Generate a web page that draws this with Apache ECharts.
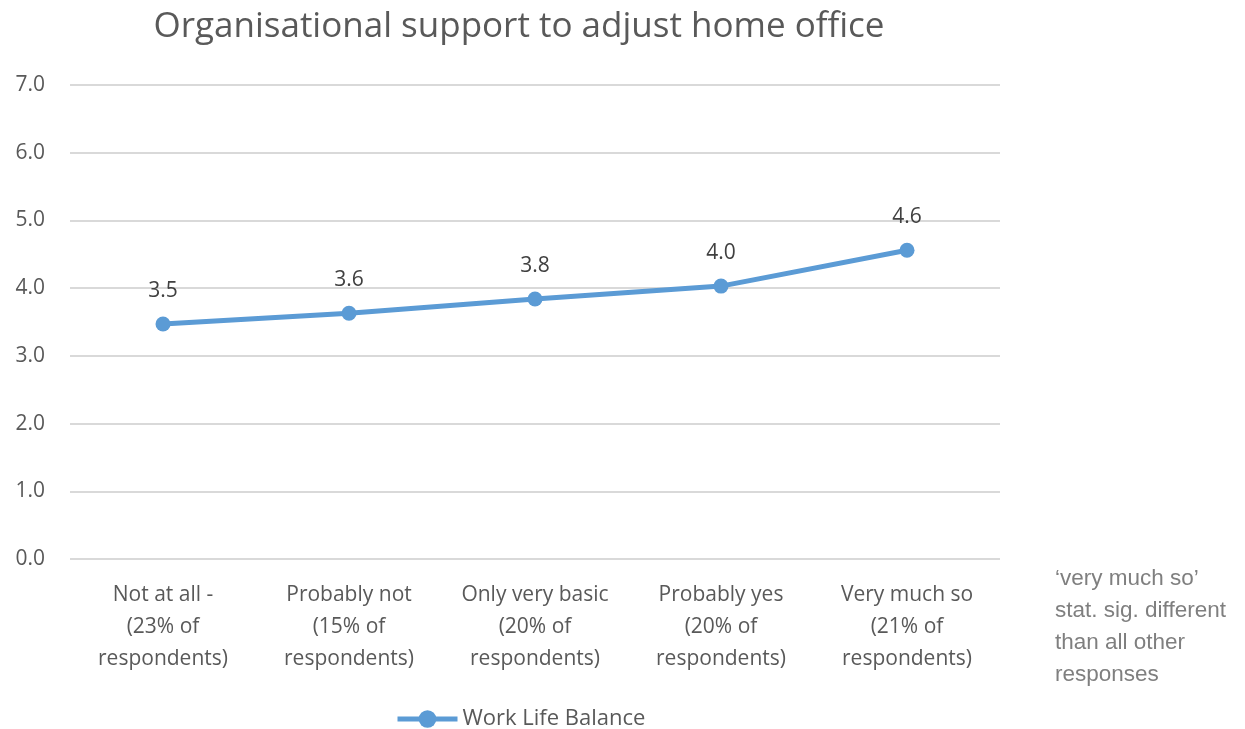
<!DOCTYPE html>
<html><head><meta charset="utf-8">
<script src="https://cdn.jsdelivr.net/npm/echarts@6/dist/echarts.min.js"></script>
<style>html,body{margin:0;padding:0;background:#fff}#c{width:1245px;height:729px}</style>
</head><body><div id="c"></div>
<script>
const categories = [
  "Not at all -\n(23% of\nrespondents)",
  "Probably not\n(15% of\nrespondents)",
  "Only very basic\n(20% of\nrespondents)",
  "Probably yes\n(20% of\nrespondents)",
  "Very much so\n(21% of\nrespondents)"
];
const workLifeBalance = [3.47, 3.63, 3.84, 4.03, 4.56];
const yTicks = { min: 0, max: 7, interval: 1 };
const seriesName = "Work Life Balance";
const titleText = "Organisational support to adjust home office";
const noteLines = ["‘very much so’", "stat. sig. different", "than all other", "responses"];

const FONT = "'Open Sans', sans-serif";
const chart = echarts.init(document.getElementById('c'), null, {renderer: 'canvas'});
chart.setOption({
  animation: false,
  backgroundColor: '#fff',
  title: {
    text: titleText, left: 514, top: 5, textAlign: 'center',
    textStyle: {fontFamily: FONT, fontSize: 35, fontWeight: 'normal', color: '#595959'}
  },
  grid: {left: 70, right: 245, top: 85, bottom: 170, containLabel: false},
  xAxis: {
    type: 'category', data: categories, boundaryGap: true,
    axisLine: {show: false}, axisTick: {show: false},
    axisLabel: {fontFamily: FONT, fontSize: 21, color: '#595959', lineHeight: 32, margin: 20, interval: 0}
  },
  yAxis: {
    type: 'value', min: yTicks.min, max: yTicks.max, interval: yTicks.interval,
    axisLine: {show: false}, axisTick: {show: false},
    axisLabel: {fontFamily: FONT, fontSize: 21, color: '#595959', margin: 25, formatter: v => v.toFixed(1)},
    splitLine: {lineStyle: {color: '#d9d9d9', width: 2}}
  },
  legend: {
    top: 703, left: 390, itemWidth: 60, itemHeight: 22, itemGap: 10,
    textStyle: {fontFamily: FONT, fontSize: 22, color: '#595959'},
    lineStyle: {width: 5},
    data: [seriesName]
  },
  series: [{
    name: seriesName, type: 'line', data: workLifeBalance,
    symbol: 'circle', symbolSize: 15,
    lineStyle: {color: '#5b9bd5', width: 5},
    itemStyle: {color: '#5b9bd5'},
    label: {show: true, position: 'top', distance: 15, fontFamily: FONT, fontSize: 21, color: '#404040',
      formatter: p => p.value.toFixed(1)}
  }],
  graphic: [{
    type: 'text', left: 1055, top: 563,
    style: {text: noteLines.join('\n'), fontFamily: "'Liberation Sans', Arial, sans-serif", fontSize: 22.5, lineHeight: 32, fill: '#7f7f7f'}
  }]
});
</script></body></html>
